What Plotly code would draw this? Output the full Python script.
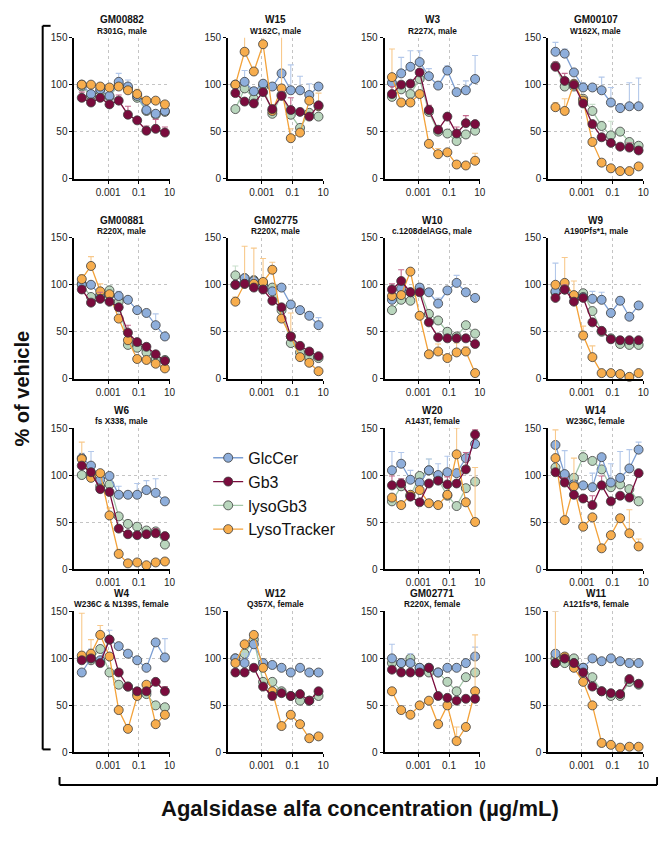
import plotly.graph_objects as go

# ---------------- data ----------------
CONC = [1.91e-5, 7.63e-5, 3.05e-4, 1.22e-3, 4.88e-3, 0.0195, 0.0781, 0.3125, 1.25, 5.0]
X_TICKS = [0.001, 0.1, 10]
X_TICK_TEXT = ["0.001", "0.1", "10"]
Y_TICKS = [0, 50, 100, 150]

CELL_LINES = ["GM00882", "W15", "W3", "GM00107",
              "GM00881", "GM02775", "W10", "W9",
              "W6", "W20", "W14",
              "W4", "W12", "GM02771", "W11"]
MUTATIONS = ["R301G, male", "W162C, male", "R227X, male", "W162X, male",
             "R220X, male", "R220X, male", "c.1208delAGG, male", "A190Pfs*1, male",
             "fs X338, male", "A143T, female", "W236C, female",
             "W236C & N139S, female", "Q357X, female", "R220X, female", "A121fs*8, female"]
SERIES = ["GlcCer", "Gb3", "lysoGb3", "LysoTracker"]

GLCCER = [
    [100, 90, 95, 88, 103, 98, 88, 73, 69, 72],
    [100, 103, 93, 101, 98, 112, 94, 94, 89, 98],
    [102, 112, 119, 124, 109, 99, 115, 92, 94, 106],
    [135, 133, 113, 97, 97, 94, 81, 75, 77, 77],
    [100, 100, 89, 89, 88, 84, 73, 70, 57, 45],
    [100, 107, 104, 100, 93, 97, 79, 73, 67, 57],
    [84, 96, 92, 97, 92, 80, 94, 102, 92, 86],
    [93, 95, 88, 87, 85, 84, 70, 83, 66, 78],
    [118, 110, 95, 99, 79, 79, 79, 84, 81, 72],
    [105, 112, 95, 92, 105, 100, 103, 102, 118, 133],
    [132, 101, 90, 89, 87, 119, 92, 97, 107, 127],
    [85, 100, 98, 120, 113, 105, 98, 90, 117, 101],
    [100, 95, 115, 95, 93, 90, 85, 90, 85, 85],
    [100, 95, 95, 90, 90, 85, 90, 90, 95, 102],
    [105, 100, 95, 90, 100, 97, 100, 97, 95, 95],
]
GB3 = [
    [86, 81, 86, 79, 83, 68, 62, 51, 53, 49],
    [91, 82, 80, 92, 74, 88, 73, 71, 66, 78],
    [90, 100, 101, 113, 73, 52, 66, 48, 59, 58],
    [119, 104, 100, 80, 58, 44, 38, 34, 33, 30],
    [95, 81, 85, 82, 76, 49, 39, 34, 26, 19],
    [100, 101, 97, 95, 83, 76, 45, 35, 29, 24],
    [95, 104, 92, 92, 60, 44, 43, 43, 43, 37],
    [86, 95, 82, 86, 60, 51, 42, 41, 41, 41],
    [110, 103, 85, 82, 43, 37, 36, 37, 38, 35],
    [89, 91, 77, 71, 91, 94, 90, 91, 106, 143],
    [103, 92, 79, 75, 68, 89, 72, 78, 76, 102],
    [98, 100, 95, 120, 85, 70, 65, 65, 75, 65],
    [85, 85, 90, 70, 60, 63, 60, 62, 55, 65],
    [88, 85, 85, 85, 90, 60, 58, 55, 57, 57],
    [95, 100, 95, 85, 70, 65, 63, 62, 78, 73],
]
LYSOGB3 = [
    [98, 88, 93, 87, 100, 96, 86, 72, 68, 71],
    [74, 96, 85, 98, 69, 89, 68, 54, 70, 66],
    [87, 95, 90, 106, 71, 50, 48, 40, 47, 51],
    [120, 98, 98, 85, 72, 56, 46, 50, 39, 35],
    [101, 87, 88, 94, 82, 36, 33, 28, 21, 20],
    [110, 107, 105, 102, 97, 73, 38, 28, 23, 22],
    [73, 84, 83, 95, 69, 62, 50, 45, 57, 48],
    [92, 95, 88, 91, 72, 50, 43, 37, 36, 36],
    [100, 100, 88, 90, 56, 48, 45, 41, 40, 26],
    [72, 88, 78, 99, 105, 95, 78, 67, 86, 93],
    [108, 100, 97, 119, 115, 106, 87, 90, 85, 72],
    [100, 98, 110, 85, 72, 70, 62, 62, 50, 48],
    [100, 105, 120, 75, 75, 65, 60, 55, 55, 60],
    [95, 95, 100, 90, 85, 85, 75, 65, 80, 85],
    [100, 95, 100, 90, 80, 65, 60, 60, 75, 72],
]
LYSOTRACKER = [
    [100, 100, 98, 97, 98, 94, 90, 83, 83, 79],
    [100, 135, 114, 143, 72, 96, 43, 49, 83, 77],
    [108, 81, 81, 90, 37, 26, 28, 15, 14, 19],
    [76, 72, 101, 83, 39, 17, 11, 8, 8, 13],
    [106, 120, 93, 90, 64, 41, 21, 20, 16, 11],
    [82, 101, 101, 103, 116, 64, 45, 23, 17, 8],
    [88, 89, 114, 67, 26, 29, 22, 28, 29, 6],
    [100, 102, 89, 46, 23, 6, 6, 5, 2, 6],
    [117, 97, 102, 57, 16, 6, 7, 4, 7, 8],
    [76, 68, 79, 84, 70, 68, 79, 122, 71, 50],
    [118, 52, 88, 45, 55, 22, 36, 54, 38, 24],
    [103, 105, 125, 102, 45, 25, 60, 72, 30, 40],
    [95, 115, 125, 90, 65, 28, 40, 30, 15, 17],
    [65, 45, 40, 50, 55, 30, 50, 12, 27, 65],
    [95, 102, 90, 75, 50, 10, 8, 5, 6, 6],
]
# upper error bars (SD)
GLCCER_ERR = [
    [0, 0, 5, 0, 9, 7, 0, 0, 0, 0],
    [0, 12, 0, 0, 0, 0, 27, 15, 12, 0],
    [0, 17, 17, 12, 8, 0, 5, 0, 10, 25],
    [10, 5, 0, 5, 0, 14, 16, 5, 25, 30],
    [0, 3, 0, 0, 5, 0, 0, 0, 12, 0],
    [0, 3, 0, 0, 0, 3, 0, 4, 4, 8],
    [0, 0, 0, 4, 0, 6, 0, 8, 0, 0],
    [30, 0, 0, 0, 8, 8, 0, 4, 0, 0],
    [5, 15, 0, 0, 9, 0, 12, 10, 15, 0],
    [20, 12, 10, 0, 12, 12, 17, 0, 0, 5],
    [0, 25, 0, 0, 15, 0, 20, 28, 20, 8],
    [0, 10, 0, 10, 0, 0, 0, 0, 0, 20],
    [0, 10, 0, 0, 0, 0, 0, 0, 0, 0],
    [15, 0, 10, 0, 0, 0, 0, 0, 0, 10],
    [45, 0, 0, 0, 0, 0, 0, 0, 0, 0],
]
GB3_ERR = [
    [6, 0, 0, 0, 6, 9, 0, 5, 10, 6],
    [0, 0, 0, 3, 0, 5, 13, 0, 0, 0],
    [8, 0, 3, 0, 5, 3, 0, 7, 8, 0],
    [5, 8, 0, 0, 0, 0, 0, 0, 5, 4],
    [0, 0, 7, 0, 0, 8, 0, 0, 0, 0],
    [0, 0, 0, 0, 0, 0, 0, 0, 0, 0],
    [6, 12, 0, 0, 0, 0, 0, 0, 0, 0],
    [0, 5, 0, 0, 0, 0, 3, 0, 0, 0],
    [0, 0, 0, 0, 0, 0, 0, 3, 5, 0],
    [10, 5, 0, 0, 0, 0, 8, 0, 18, 5],
    [0, 5, 0, 0, 10, 10, 0, 0, 0, 0],
    [0, 0, 0, 0, 0, 0, 0, 0, 0, 5],
    [0, 0, 0, 0, 0, 0, 0, 0, 0, 0],
    [0, 0, 0, 0, 0, 0, 0, 0, 0, 0],
    [0, 0, 0, 0, 0, 0, 0, 0, 0, 0],
]
LYSOGB3_ERR = [
    [0, 0, 0, 0, 0, 0, 0, 0, 0, 0],
    [0, 0, 0, 0, 0, 0, 0, 0, 0, 0],
    [0, 0, 0, 0, 0, 0, 4, 0, 0, 0],
    [0, 0, 0, 0, 7, 5, 15, 0, 0, 0],
    [5, 0, 0, 5, 0, 0, 0, 0, 0, 3],
    [10, 0, 0, 0, 0, 0, 0, 0, 0, 0],
    [0, 0, 0, 0, 0, 0, 0, 0, 0, 0],
    [0, 0, 0, 0, 0, 0, 0, 0, 0, 0],
    [0, 0, 0, 0, 0, 4, 0, 0, 0, 0],
    [0, 0, 0, 0, 12, 0, 0, 0, 0, 0],
    [0, 0, 0, 7, 0, 0, 0, 0, 0, 5],
    [0, 0, 0, 0, 0, 0, 0, 0, 0, 0],
    [0, 0, 0, 0, 0, 0, 0, 0, 0, 0],
    [0, 0, 0, 0, 0, 0, 0, 0, 0, 0],
    [0, 0, 0, 0, 0, 0, 0, 0, 0, 0],
]
LYSOTRACKER_ERR = [
    [0, 0, 0, 0, 0, 0, 5, 0, 0, 0],
    [0, 30, 0, 22, 0, 60, 10, 0, 0, 14],
    [30, 0, 0, 0, 0, 6, 0, 0, 0, 8],
    [5, 13, 0, 5, 0, 0, 0, 0, 0, 3],
    [5, 10, 8, 0, 0, 0, 0, 0, 0, 0],
    [5, 40, 38, 25, 8, 0, 25, 0, 0, 0],
    [0, 0, 0, 0, 0, 8, 0, 10, 5, 0],
    [0, 27, 15, 10, 12, 0, 0, 0, 0, 0],
    [18, 0, 0, 8, 5, 0, 0, 0, 0, 0],
    [0, 0, 0, 0, 0, 0, 0, 28, 0, 58],
    [30, 0, 30, 0, 0, 0, 0, 0, 25, 8],
    [45, 15, 10, 0, 0, 0, 0, 0, 0, 0],
    [0, 0, 0, 0, 0, 0, 0, 0, 0, 0],
    [0, 0, 0, 0, 0, 0, 0, 15, 0, 60],
    [55, 0, 0, 0, 0, 0, 0, 0, 0, 0],
]

# ---------------- styling / layout ----------------
W, H = 666, 845
FONT = "Liberation Sans, Arial, sans-serif"
COL_X0 = [67, 222, 380, 545]
PLOT_W = 96
ROW_TOP = [24, 227, 420, 606]
PLOT_H = 143
LEGEND_SLOT = 9

STYLE = {
    "GlcCer": dict(fill="#8eaedb", line="#7d9fd3", err="#b3c8ea"),
    "Gb3": dict(fill="#7a0c3d", line="#7a0c3d", err="#c36a8e"),
    "lysoGb3": dict(fill="#b9d6bd", line="#a3c8a9", err="#c9dfcc"),
    "LysoTracker": dict(fill="#f7ad4d", line="#f3a23a", err="#f8c98c"),
}
VALUES = {"GlcCer": GLCCER, "Gb3": GB3, "lysoGb3": LYSOGB3, "LysoTracker": LYSOTRACKER}
ERRORS = {"GlcCer": GLCCER_ERR, "Gb3": GB3_ERR, "lysoGb3": LYSOGB3_ERR, "LysoTracker": LYSOTRACKER_ERR}
DRAW_ORDER = ["lysoGb3", "GlcCer", "LysoTracker", "Gb3"]

fig = go.Figure()
layout = {}
annotations = []

slots = [s for s in range(16) if s != LEGEND_SLOT]
for i, slot in enumerate(slots):
    r, c = divmod(slot, 4)
    k = i + 1
    xa = "x" if k == 1 else f"x{k}"
    ya = "y" if k == 1 else f"y{k}"
    x0 = COL_X0[c]
    top = ROW_TOP[r]
    layout["xaxis" if k == 1 else f"xaxis{k}"] = dict(
        type="log", range=[-5.2, 1.0], domain=[x0 / W, (x0 + PLOT_W) / W],
        anchor=ya, tickmode="array", tickvals=X_TICKS, ticktext=X_TICK_TEXT,
        showgrid=True, gridcolor="#c4c4c4", griddash="dot", gridwidth=1,
        showline=True, linecolor="black", linewidth=1.8,
        ticks="outside", ticklen=3, tickwidth=1.2, tickcolor="black",
        tickfont=dict(family=FONT, size=10, color="#222"), zeroline=False,
        fixedrange=True,
    )
    layout["yaxis" if k == 1 else f"yaxis{k}"] = dict(
        range=[0, 150], domain=[1 - (top + PLOT_H) / H, 1 - top / H],
        anchor=xa, tickmode="array", tickvals=Y_TICKS,
        showgrid=True, gridcolor="#c4c4c4", griddash="dot", gridwidth=1,
        showline=True, linecolor="black", linewidth=1.8,
        ticks="outside", ticklen=3, tickwidth=1.2, tickcolor="black",
        tickfont=dict(family=FONT, size=10, color="#222"), zeroline=False,
        fixedrange=True,
    )
    for name in DRAW_ORDER:
        st = STYLE[name]
        fig.add_trace(go.Scatter(
            x=CONC, y=VALUES[name][i], xaxis=xa, yaxis=ya,
            mode="lines+markers", name=name, legendgroup=name,
            legendrank=SERIES.index(name) + 1,
            showlegend=(i == 0),
            line=dict(color=st["line"], width=1.3),
            marker=dict(size=9, color=st["fill"], line=dict(color="#3c3c3c", width=0.8)),
            error_y=dict(type="data", symmetric=False, array=ERRORS[name][i],
                         arrayminus=[0] * len(CONC), color=st["err"],
                         thickness=1.1, width=3),
            cliponaxis=False,
        ))
    cx = (x0 + PLOT_W / 2) / W
    annotations.append(dict(text=f"<b>{CELL_LINES[i]}</b>", x=cx, y=1 - (top - 18) / H,
                            xref="paper", yref="paper", showarrow=False,
                            font=dict(family=FONT, size=10, color="#111"),
                            xanchor="center", yanchor="middle"))
    annotations.append(dict(text=f"<b>{MUTATIONS[i]}</b>", x=cx, y=1 - (top - 7) / H,
                            xref="paper", yref="paper", showarrow=False,
                            font=dict(family=FONT, size=8.3, color="#111"),
                            xanchor="center", yanchor="middle"))

bottom = ROW_TOP[3] + PLOT_H
annotations.append(dict(text="<b>% of vehicle</b>", x=14 / W, y=1 - 380 / H,
                        xref="paper", yref="paper", showarrow=False, textangle=-90,
                        font=dict(family=FONT, size=20, color="#111"),
                        xanchor="center", yanchor="middle"))
annotations.append(dict(text="<b>Agalsidase alfa concentration (\u00b5g/mL)</b>",
                        x=355 / W, y=1 - (bottom + 57) / H,
                        xref="paper", yref="paper", showarrow=False,
                        font=dict(family=FONT, size=22, color="#111"),
                        xanchor="center", yanchor="middle"))

def px(x):
    return x / W

def py(y):
    return 1 - y / H

shapes = []
lc = dict(color="black", width=2)
# left bracket
lb = bottom - 3
shapes.append(dict(type="line", xref="paper", yref="paper", x0=px(35), x1=px(35), y0=py(12), y1=py(lb), line=lc))
shapes.append(dict(type="line", xref="paper", yref="paper", x0=px(35), x1=px(43), y0=py(12), y1=py(12), line=lc))
shapes.append(dict(type="line", xref="paper", yref="paper", x0=px(35), x1=px(43), y0=py(lb), y1=py(lb), line=lc))
# bottom bracket
by = bottom + 33
shapes.append(dict(type="line", xref="paper", yref="paper", x0=px(52), x1=px(655), y0=py(by), y1=py(by), line=lc))
shapes.append(dict(type="line", xref="paper", yref="paper", x0=px(52), x1=px(52), y0=py(by), y1=py(by - 8), line=lc))
shapes.append(dict(type="line", xref="paper", yref="paper", x0=px(655), x1=px(655), y0=py(by), y1=py(by - 8), line=lc))

fig.update_layout(
    width=W, height=H, margin=dict(l=0, r=0, t=0, b=0),
    paper_bgcolor="white", plot_bgcolor="white",
    font=dict(family=FONT, color="#111"),
    showlegend=True,
    legend=dict(x=px(202), y=py(433), xanchor="left", yanchor="top",
                font=dict(family=FONT, size=16, color="#111"),
                bgcolor="rgba(0,0,0,0)", tracegroupgap=0, itemwidth=30,
                traceorder="normal"),
    annotations=annotations, shapes=shapes, hovermode=False,
    **layout,
)

fig.write_html("out.html")
